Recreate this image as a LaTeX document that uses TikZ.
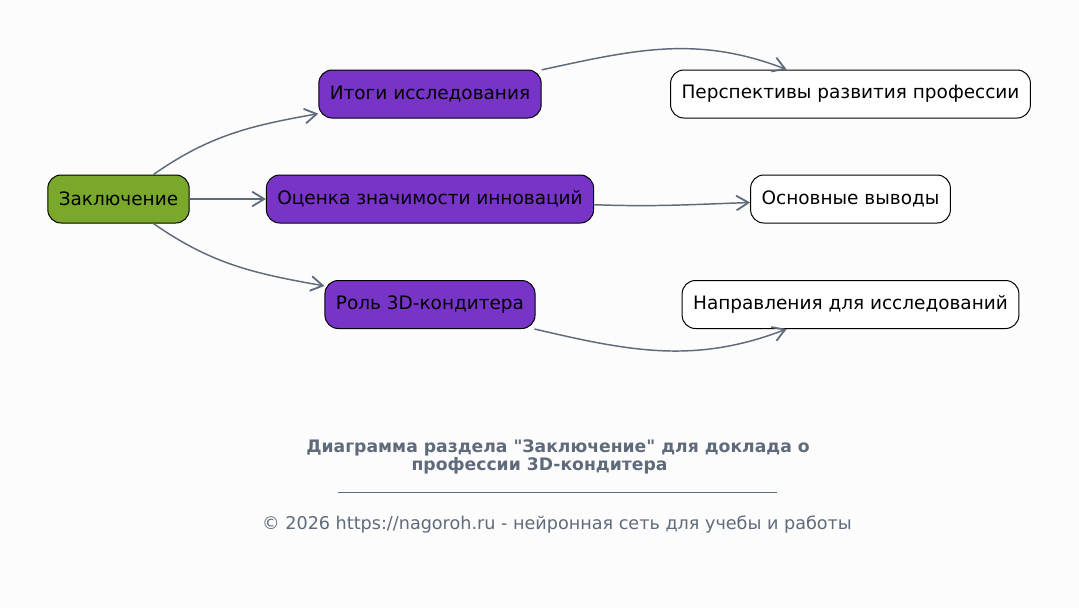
\documentclass[tikz,border=0pt]{standalone}
\usepackage{fontspec}
\setmainfont{DejaVu Sans}[Ligatures=TeXOff]
\usepackage{tikz}
\usetikzlibrary{arrows.meta}
\definecolor{zakgreen}{HTML}{79A82B}
\definecolor{mainpurple}{HTML}{7734C7}
\definecolor{edgegray}{HTML}{5F6B7A}
\definecolor{bgwhite}{HTML}{FCFCFC}

\begin{document}
\begin{tikzpicture}[x=0.75pt, y=0.75pt,
        box/.style={draw=black, line width=0.75pt, rounded corners=10pt, minimum height=36pt, inner xsep=8.25pt, font=\fontsize{13.85}{16}\selectfont},
        link/.style={draw=edgegray, line width=1.1pt, -{Straight Barb[length=9pt, width=11pt, line width=1.35pt]}}]
        \fill[bgwhite] (0, 0) rectangle (1079, -608);
        \useasboundingbox (0, 0) rectangle (1079, -608);

        \node[box, fill=zakgreen] at (118.5, -199)   (zak) {Заключение};

        \node[box, fill=mainpurple] at (430, -94)    (itogi) {Итоги исследования};
        \node[box, fill=mainpurple] at (430, -199)   (ocenka) {Оценка значимости инноваций};
        \node[box, fill=mainpurple] at (430, -304.5) (rol) {Роль 3D-кондитера};

        \node[box, fill=white] at (850.5, -94)    (persp) {Перспективы развития профессии};
        \node[box, fill=white] at (850.5, -199)   (vyvody) {Основные выводы};
        \node[box, fill=white] at (850.5, -304.5) (napr) {Направления для исследований};

        \draw [link] (zak) to[out=35, in=190] (itogi);
        \draw [link] (zak) -- (ocenka);
        \draw [link] (zak) to[out=-35, in=170] (rol);
        \draw [link] (itogi) to[out=12.5, in=159] (persp);
        \draw [link] (ocenka) to[out=-2, in=182] (vyvody);
        \draw [link] (rol) to[out=-13.4, in=201] (napr);

        \node[align=center, text=edgegray, font=\fontsize{12.9}{14}\selectfont\bfseries] at (558, -457) (title)
            {Диаграмма раздела "Заключение" для доклада о\\профессии 3D-кондитера\hspace*{27.75pt}};
        \draw [edgegray, line width=0.6pt] (338, -492) -- (777, -492);
        \node[text=edgegray, font=\fontsize{13.2}{15}\selectfont] at (557, -524) (footer)
            {© 2026 https://nagoroh.ru - нейронная сеть для учебы и работы};
    \end{tikzpicture}
\end{document}
